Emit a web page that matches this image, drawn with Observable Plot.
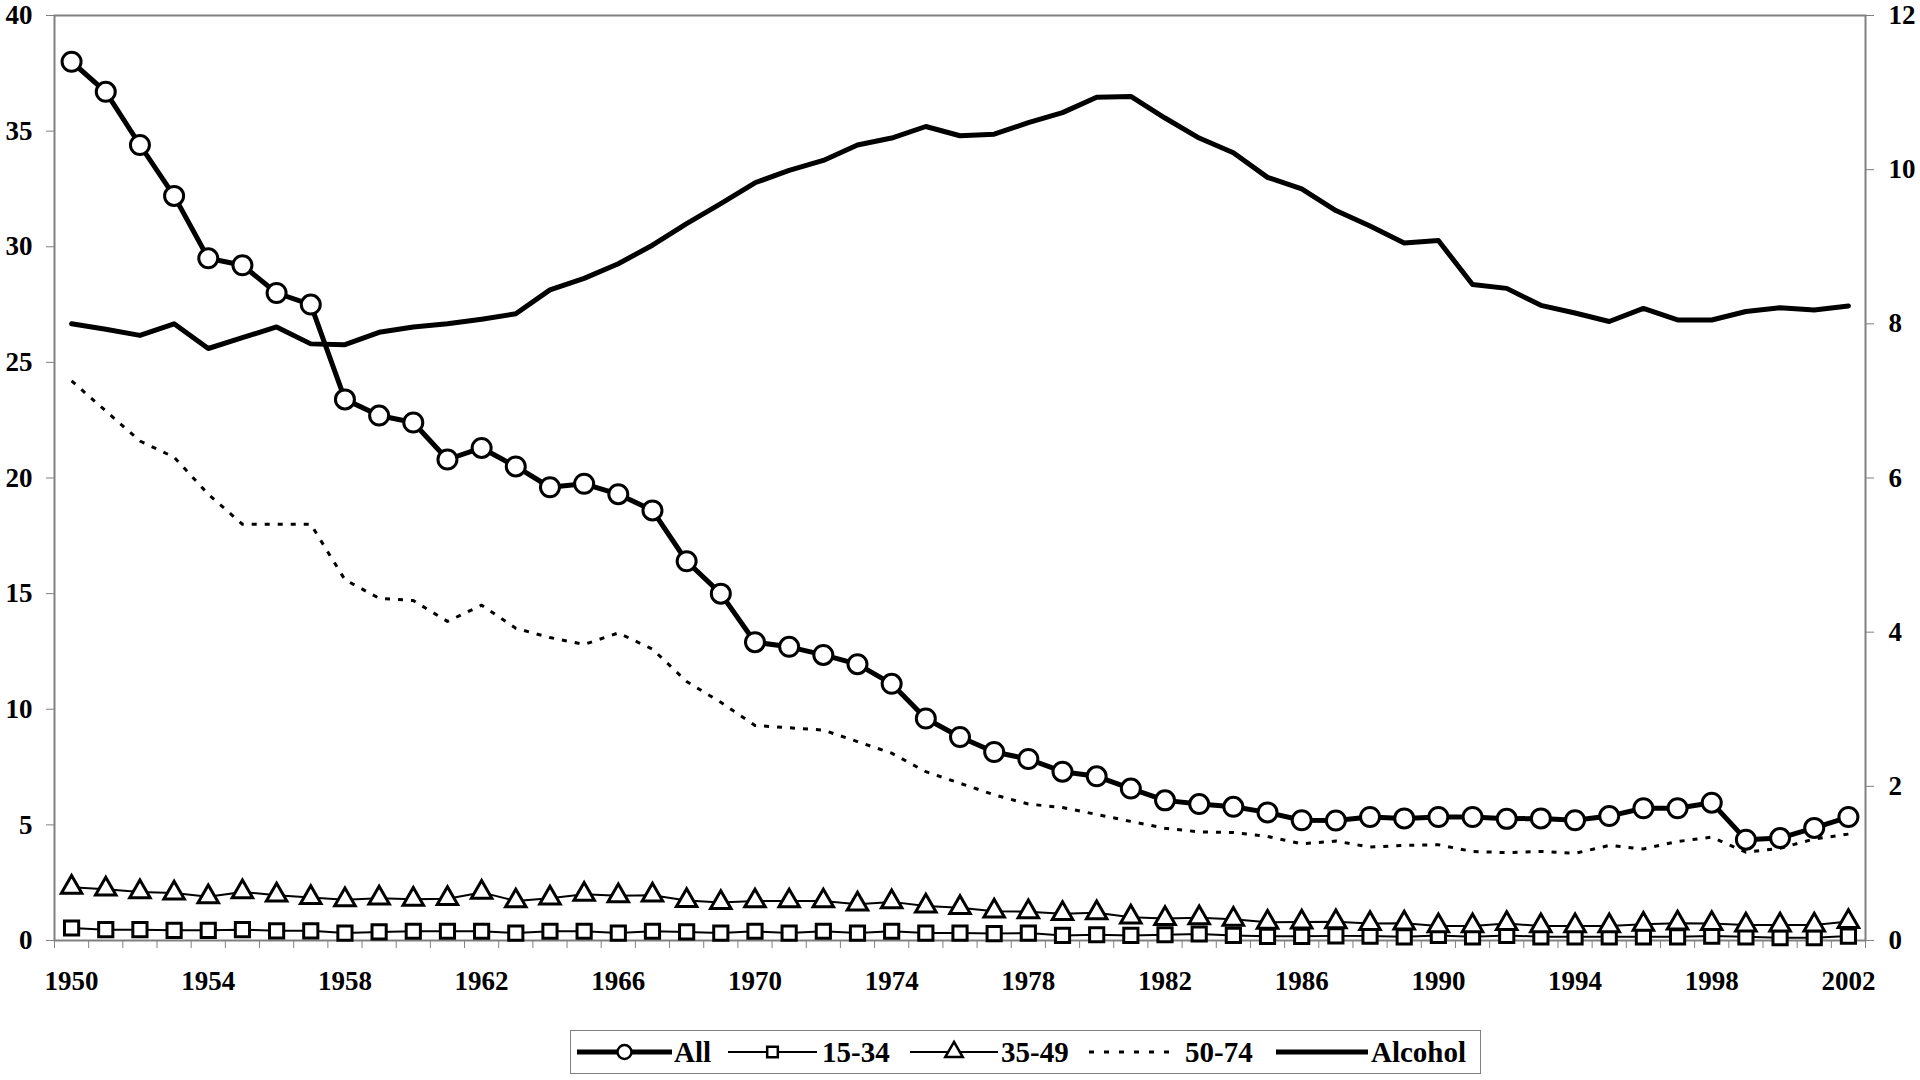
<!DOCTYPE html>
<html>
<head>
<meta charset="utf-8">
<script src="https://cdn.jsdelivr.net/npm/d3@7"></script>
<script src="https://cdn.jsdelivr.net/npm/@observablehq/plot@0.6"></script>
<style>
  html, body { margin: 0; padding: 0; background: #fff; }
  body { width: 1920px; height: 1080px; position: relative; overflow: hidden; }
  #chart { position: absolute; left: 0; top: 0; }
  #legend { position: absolute; left: 570px; top: 1030px; }
</style>
</head>
<body>
<div id="chart"></div>
<div id="legend"></div>
<script>
// ---- data ----
const years = [1950,1951,1952,1953,1954,1955,1956,1957,1958,1959,
  1960,1961,1962,1963,1964,1965,1966,1967,1968,1969,
  1970,1971,1972,1973,1974,1975,1976,1977,1978,1979,
  1980,1981,1982,1983,1984,1985,1986,1987,1988,1989,
  1990,1991,1992,1993,1994,1995,1996,1997,1998,1999,
  2000,2001,2002];

const allAges = [38.0,36.7,34.4,32.2,29.5,29.2,28.0,27.5,23.4,22.7,
  22.4,20.8,21.3,20.5,19.6,19.75,19.3,18.6,16.4,15.0,
  12.9,12.7,12.35,11.95,11.1,9.6,8.8,8.15,7.85,7.3,
  7.1,6.57,6.06,5.9,5.78,5.54,5.2,5.19,5.34,5.28,
  5.34,5.34,5.26,5.28,5.2,5.38,5.72,5.72,5.96,4.36,
  4.43,4.87,5.34];

const age1534 = [0.54,0.47,0.47,0.44,0.44,0.47,0.42,0.42,0.32,0.37,
  0.40,0.40,0.40,0.32,0.40,0.40,0.32,0.40,0.37,0.32,
  0.40,0.32,0.40,0.32,0.40,0.32,0.32,0.30,0.32,0.22,
  0.25,0.22,0.25,0.28,0.22,0.18,0.18,0.20,0.19,0.16,
  0.22,0.16,0.22,0.16,0.16,0.16,0.16,0.16,0.19,0.16,
  0.12,0.12,0.19];

const age3549 = [2.3,2.22,2.1,2.05,1.89,2.1,1.96,1.86,1.76,1.83,
  1.78,1.81,2.08,1.71,1.83,2.0,1.93,1.96,1.73,1.64,
  1.71,1.71,1.71,1.57,1.67,1.49,1.42,1.27,1.24,1.16,
  1.2,1.01,0.95,0.98,0.92,0.79,0.8,0.81,0.73,0.75,
  0.63,0.63,0.73,0.63,0.63,0.63,0.7,0.75,0.73,0.67,
  0.67,0.67,0.82];

const age5074 = [24.2,22.9,21.6,20.9,19.3,18.0,18.0,18.0,15.6,14.8,
  14.7,13.8,14.5,13.5,13.1,12.8,13.3,12.6,11.2,10.3,
  9.3,9.2,9.1,8.6,8.1,7.3,6.8,6.3,5.9,5.75,
  5.45,5.15,4.85,4.7,4.67,4.5,4.18,4.3,4.04,4.11,
  4.14,3.85,3.8,3.85,3.77,4.11,3.96,4.28,4.47,3.82,
  3.99,4.39,4.6];

const alcohol = [8.0,7.93,7.85,8.0,7.68,7.82,7.96,7.74,7.73,7.89,
  7.96,8.0,8.06,8.13,8.44,8.59,8.78,9.02,9.3,9.56,
  9.83,9.99,10.12,10.32,10.41,10.56,10.44,10.46,10.61,10.74,
  10.94,10.95,10.67,10.41,10.22,9.9,9.75,9.47,9.27,9.05,
  9.08,8.51,8.46,8.24,8.14,8.03,8.2,8.05,8.05,8.16,
  8.21,8.18,8.23];

const leftTicks = [0,5,10,15,20,25,30,35,40];
const rightTicks = [0,2,4,6,8,10,12];
const xLabelYears = [1950,1954,1958,1962,1966,1970,1974,1978,1982,1986,1990,1994,1998,2002];
const legendLabels = ["All","15-34","35-49","50-74","Alcohol"];

// ---- derived ----
const leftMax = 40, rightMax = 12;
const k = leftMax / rightMax;
const rows = years.map((y, i) => ({
  year: y, all: allAges[i], a1534: age1534[i], a3549: age3549[i],
  a5074: age5074[i], alc: alcohol[i] * k
}));
const bounds = [...years.map(y => y - 0.5), years[years.length - 1] + 0.5];

const gray = "#808080";
const plot = Plot.plot({
  width: 1920,
  height: 1000,
  marginLeft: 54,
  marginRight: 55,
  marginTop: 15,
  marginBottom: 60,
  style: {
    fontFamily: "'Liberation Serif', 'Times New Roman', serif",
    fontSize: "27px",
    fontWeight: "bold",
    color: "black",
    background: "white",
    overflow: "visible"
  },
  x: {domain: [bounds[0], bounds[bounds.length - 1]], label: null},
  y: {domain: [0, leftMax], label: null},
  marks: [
    Plot.axisY({anchor: "left", ticks: leftTicks, tickSize: 8, tickPadding: 14,
      tickFormat: d => String(d), stroke: gray, fill: "black", label: null}),
    Plot.axisY({anchor: "right", ticks: rightTicks.map(d => d * k), tickSize: 8, tickPadding: 15,
      tickFormat: d => String(Math.round(d / k)), stroke: gray, fill: "black", label: null}),
    Plot.axisX({anchor: "bottom", ticks: bounds, tickSize: 8, tickFormat: () => "",
      stroke: gray, label: null}),
    Plot.axisX({anchor: "bottom", ticks: xLabelYears, tickSize: 0, tickPadding: 30,
      tickFormat: d => String(d), fill: "black", label: null}),
    Plot.frame({stroke: gray, strokeWidth: 2}),
    // 50-74 dotted
    Plot.line(rows, {x: "year", y: "a5074", stroke: "black", strokeWidth: 3,
      strokeDasharray: "5,8", strokeLinecap: "butt"}),
    // 15-34 squares
    Plot.line(rows, {x: "year", y: "a1534", stroke: "black", strokeWidth: 2}),
    Plot.dot(rows, {x: "year", y: "a1534", symbol: "square", r: 8,
      fill: "white", stroke: "black", strokeWidth: 3}),
    // 35-49 triangles
    Plot.line(rows, {x: "year", y: "a3549", stroke: "black", strokeWidth: 2}),
    Plot.dot(rows, {x: "year", y: "a3549", symbol: "triangle", r: 7.6,
      fill: "white", stroke: "black", strokeWidth: 3}),
    // All circles
    Plot.line(rows, {x: "year", y: "all", stroke: "black", strokeWidth: 5}),
    Plot.dot(rows, {x: "year", y: "all", symbol: "circle", r: 9.5,
      fill: "white", stroke: "black", strokeWidth: 3}),
    // Alcohol (right axis)
    Plot.line(rows, {x: "year", y: "alc", stroke: "black", strokeWidth: 5})
  ]
});
document.getElementById("chart").appendChild(plot);

// ---- legend ----
const LW = 911, LH = 44, cy = 22;
const lg = d3.select("#legend").append("svg")
  .attr("width", LW).attr("height", LH)
  .style("display", "block")
  .style("font-family", "'Liberation Serif', 'Times New Roman', serif")
  .style("font-weight", "bold").style("font-size", "29px");
lg.append("rect").attr("x", 0.5).attr("y", 0.5).attr("width", LW - 1).attr("height", LH - 1)
  .attr("fill", "white").attr("stroke", gray).attr("stroke-width", 1);

const items = [
  {x0: 7, x1: 102, tx: 104, w: 5, marker: "circle"},
  {x0: 158, x1: 247, tx: 252, w: 2, marker: "square"},
  {x0: 340, x1: 428, tx: 431, w: 2, marker: "triangle"},
  {x0: 519, x1: 607, tx: 615, w: 3, marker: null, dash: "5,10"},
  {x0: 706, x1: 798, tx: 801, w: 5, marker: null}
];
const symMap = {circle: d3.symbolCircle, square: d3.symbolSquare, triangle: d3.symbolTriangle};
const rMap = {circle: 7, square: 6, triangle: 6.5};
items.forEach((it, i) => {
  const ln = lg.append("line").attr("x1", it.x0).attr("x2", it.x1)
    .attr("y1", cy).attr("y2", cy).attr("stroke", "black").attr("stroke-width", it.w);
  if (it.dash) ln.attr("stroke-dasharray", it.dash);
  if (it.marker) {
    const r = rMap[it.marker];
    lg.append("path")
      .attr("d", d3.symbol(symMap[it.marker], Math.PI * r * r)())
      .attr("transform", `translate(${(it.x0 + it.x1) / 2},${cy})`)
      .attr("fill", "white").attr("stroke", "black").attr("stroke-width", 2.5);
  }
  lg.append("text").attr("x", it.tx).attr("y", cy + 10).attr("fill", "black")
    .text(legendLabels[i]);
});
</script>
</body>
</html>
